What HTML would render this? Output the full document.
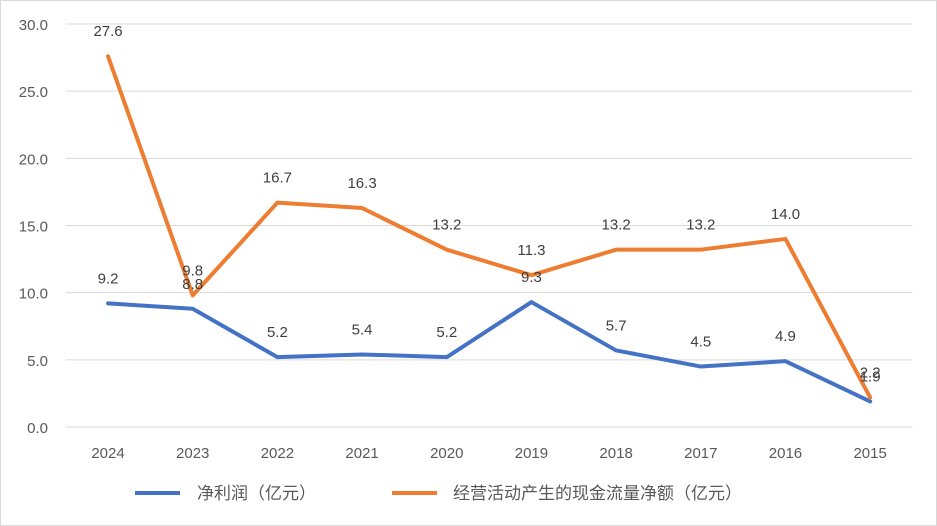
<!DOCTYPE html>
<html><head><meta charset="utf-8">
<style>
body{margin:0;background:#fff;}
svg{display:block;font-family:"Liberation Sans","Noto Sans CJK SC",sans-serif;}
</style></head>
<body>
<svg id="chart" width="937" height="526">
<rect x="0.5" y="0.5" width="936" height="525" fill="#fff" stroke="#d9d9d9"/>
<g id="grid"></g><g id="yt"></g><g id="xt"></g><g id="series"></g><g id="labels"></g>
<g>
<line x1="135" y1="493" x2="180" y2="493" stroke="#4472C4" stroke-width="4"/>
<text x="197" y="499" font-size="17" fill="#595959">净利润（亿元）</text>
<line x1="392" y1="493" x2="437" y2="493" stroke="#ED7D31" stroke-width="4"/>
<text x="453" y="499" font-size="17" fill="#595959">经营活动产生的现金流量净额（亿元）</text>
</g>
</svg>
<script>
const categories=["2024","2023","2022","2021","2020","2019","2018","2017","2016","2015"];
const netProfit=[9.2,8.8,5.2,5.4,5.2,9.3,5.7,4.5,4.9,1.9];
const cashFlow=[27.6,9.8,16.7,16.3,13.2,11.3,13.2,13.2,14.0,2.2];
const yTicks=[0,5,10,15,20,25,30];
const NS="http://www.w3.org/2000/svg";
const plotLeft=65.7,plotRight=912.5,plotTop=24,plotBottom=427,yMax=30;
const step=(plotRight-plotLeft)/categories.length;
const xS=i=>plotLeft+step*(i+0.5);
const yS=v=>plotBottom-(v/yMax)*(plotBottom-plotTop);
function mk(tag,attrs,parent,txt){const e=document.createElementNS(NS,tag);for(const k in attrs)e.setAttribute(k,attrs[k]);if(txt!==undefined)e.textContent=txt;document.getElementById(parent).appendChild(e);return e;}
yTicks.forEach(t=>{
  const g=mk('line',{x1:plotLeft,x2:plotRight,y1:yS(t),y2:yS(t),stroke:'#d9d9d9','stroke-width':1},'grid');
  
  
  const l=mk('text',{x:48,y:yS(t)+6,'text-anchor':'end','font-size':15,fill:'#595959'},'yt',t.toFixed(1));
  
  
});
categories.forEach((c,i)=>{
  const l=mk('text',{x:xS(i),y:458,'text-anchor':'middle','font-size':15,fill:'#595959'},'xt',c);
  
  
});
function series(vals,color,name){
  const p=mk('polyline',{points:vals.map((v,i)=>xS(i)+','+yS(v)).join(' '),fill:'none',stroke:color,'stroke-width':4,'stroke-linejoin':'round','stroke-linecap':'round'},'series');
  
  
  vals.forEach((v,i)=>{
    const t=mk('text',{x:xS(i),y:yS(v)-20,'text-anchor':'middle','font-size':15,fill:'#404040'},'labels',v.toFixed(1));
    
    
  });
}
series(netProfit,'#4472C4','net-profit');
series(cashFlow,'#ED7D31','operating-cash-flow');
</script>
</body></html>
